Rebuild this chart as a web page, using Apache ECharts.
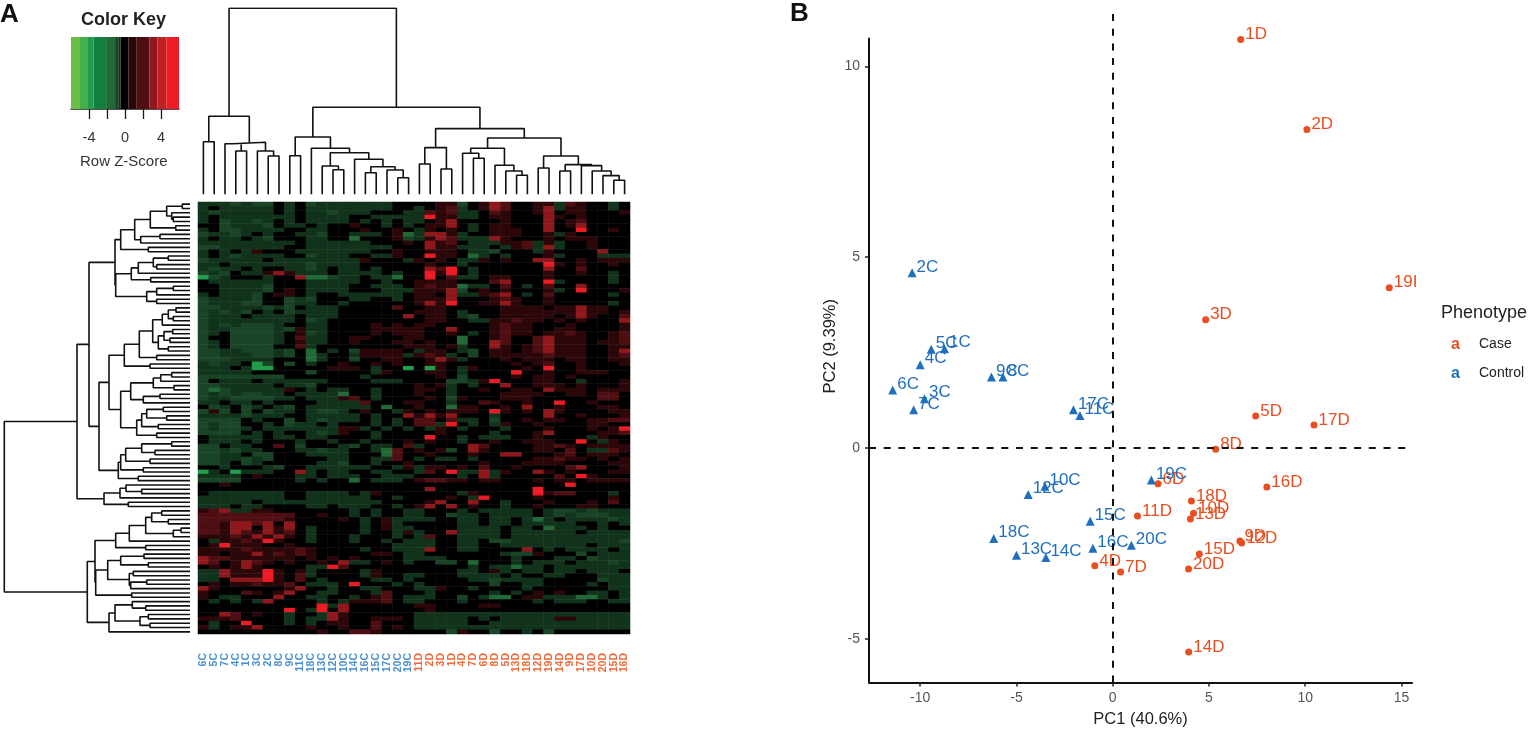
<!DOCTYPE html>
<html>
<head>
<meta charset="utf-8">
<style>html,body{margin:0;padding:0;background:#fff}#chart{width:1536px;height:734px}</style>
<script src="https://cdn.jsdelivr.net/npm/echarts@6/dist/echarts.min.js"></script>
</head>
<body>
<div id="chart"></div>
<script>
const colLabels = ['6C','5C','7C','4C','1C','3C','2C','8C','9C','11C','18C','13C','12C','10C','14C','16C','15C','17C','20C','19C',
    '11D','2D','3D','1D','4D','7D','6D','8D','5D','13D','18D','12D','19D','14D','9D','17D','10D','20D','15D','16D'];

// colour key bands: [from, to, colour]
const keyFrom = [-6, -5, -4.2, -3.5, -2.1, -1.1, -0.75, -0.5, 0.4, 1.3, 2.7, 3.6, 4.6];
const keyTo = [-5, -4.2, -3.5, -2.1, -1.1, -0.75, -0.5, 0.4, 1.3, 2.7, 3.6, 4.6, 6];
const keyColors = ['#6cbd45', '#43ae4a', '#229c4d', '#12803f', '#216a38', '#194526', '#12331b', '#000000', '#2c0709', '#4e0e12', '#8f181d', '#c02026', '#ed1c24'];

const heatLevels = {G: -3.8, g: -1.5, h: -0.9, d: -0.6, k: 0, r: 0.85, s: 2, R: 3.15, B: 5.3};
const heatRows = [
    'dddhdhhkdk hdddddddkk kkrrhkrRsk krrdsrkkdk',
    'dkdddddkdk ddddddddkk dkrsdkrRsk krRdrrkkdk',
    'dhdddddkdk ddhdddkkkd dsrsddksrk krRkrrkkkr',
    'dkdddddddk ddddkkdddd dBrrddkrrk kkRrkrkkkk',
    'dkhddhdkdk ddddkdkdkd dkrRkkkkrk kkRkrskkkk',
    'kkhdddhkdd kdkkrkkdkd krrRkdkrrk kkRkrRkkkk',
    'dkhhddddkk ddkkkrkkrk drkrkdkrrr kkRkkBkkrk',
    'hddhdkdkkd dhkkdddkrg dRRrdkkrrr kkrdrkkkkk',
    'dkddkdhkkk ddkkgkkkrh drRsdddRrk kkrkrrrkkk',
    'dddddddddk ddddddkkkr kRrskdddrr sdrdkkrkkk',
    'hhddddddkk ddddddddkk kRrrdddkdr sdRdkkrkkk',
    'dkdkdrkkkd ddddddkkrk krrrkddhkk kdrkkkkRkk',
    'dkdhddddkk hdddkkddrk kBrrkgdkdk kkrdkkkddd',
    'hdddddkddd dddddrkkkd rkrkddrkrk kRRkkrkrrr',
    'ddkddddddd hddddkkkkk krkkdkkkkk kkBrkrkkrk',
    'dhddkdkkdd hdkddkdkkk kRsBkdkkkk kkRkkskkkk',
    'hdhkddrRrd ddkddddkdk kBrBkdkkkk kkrkkrkkdk',
    'GhdkkkdkkR gghddkddgk kBksddkrrk kkrkkkkkdk',
    'kddddddkkk dddddkkdkk rrrrkkksRk kkBdkkkkdk',
    'kkddddhkkk ddddkkdddk rsrrgddksk dkskkRkkkk',
    'kkddddhkrk ddddkkkddd rrrRhkrkrk kkrdkBkkkr',
    'dkdddhkrrk dkkddddddk rrkRddrsRk dkskkkkkdk',
    'hddddhkkhd hkkkddkkdk rrrRkkkrsr kkrkkkkkkk',
    'hdddhhkkhd dkkdkkkkkk rRrBkkrrRr kkrkkkkkdk',
    'hhddddhdhk dddkkkkksk krrkkkkkrr rrkrrRrrkk',
    'hdhdhkdkhd dddkkkkkkk rrrkdkkkrr rrrrrRrrkr',
    'hdddkddddk dddkkkkkkR krrkdhkkrr rrrkrRrkks',
    'hddddddddk hdkkkkkkkk krrkkddrrs rrkrkrkkkR',
    'hdhdhhhdkk ddkkkkrkrk rrkkkkkrsr rkkkrkkkkr',
    'hddhhhhdhr ddkkkkrrrr rkkRkkkrsr rkkrrkkkkr',
    'hdkhhhhdkr hdkkkkrkrr rkkrkdkrsr rkrrsrkkrs',
    'hkkhhhhdks ddkkrrkkkr rkkkgkkrsk ksRrrrkkrs',
    'hdkhhhhdkr ddkkrkkkrr krkkgkkRsk ksRrrrkrrs',
    'hdkhhhhkks dkkkkkkkkr rrkrdkkRrk rsRrrrkkrr',
    'hhddhhhdhk gkdkhrrrrk drrkdhkrrk rsRrrrkkrR',
    'hhdddhhdhk gdkkdrrrrd rsrdkhkrrr rrsrrrkkrs',
    'hhhddddkkk gdkkhkkrrk krRrdkkkrk rrrkrrkkrr',
    'dhddkGhkhk dkkrkkrkrk krrkkkkkkr krskkrkkkr',
    'dddkdGGkkk kkrrrkdkkG kGrkdrkkkk rkBkkrkkkk',
    'dddddkkkkk hkkkkkdrkk krrkdkkkkB kkrkkrrrkk',
    'hhhhhhhhkk kkkkkdkkkk kkrkhkkkkr krrkrkkkkk',
    'hkdddkdddd ddkkkkdddk kkkhhdrBkk krrkkdkkkr',
    'hhdddddkdd hkkkkkkkkk rkrdkdkkRk krrrkrkkkr',
    'hghdddddrk dkddkkdkkk rrkdkkrkkr rkRrrrkrrr',
    'hdhdhhddkd dddgkkdkkk rkkdkkkkrr rrkkrrkssk',
    'hddhhhhddk dddrskdkkk krkhrkkkrr rkkkkkkssk',
    'ddkddkdkkk kddddskkkr rkkdkksrkk rkkBkkrkkk',
    'khdkhdkdhk ddddddkgkk rkkgrrkkrk Rkkrkkkrrk',
    'hrhkhkhddk dhhdkrkkdr krkrrrkBrk rkRrkkkkrr',
    'ddddhdddkk dddddkdkkR rRrRkkkdkk kkRkkrkkkr',
    'hhhhkdkkhk dhdddkdkdk ssksddkhkk rkrrkkrrss',
    'hdhhkkdkhd dkdkkkdkdk ssdBkdkdrk krkkkkrrkk',
    'hdhhdkdddd dddrrdkdkd kdrkdkkkdk kkrkkkrkrB',
    'hhhhkdkdkk dhdrkkdkkk kkrkkkkdkk krRkkkkrrs',
    'kdddddkddk ddkkkkdkkk kBkkdkdddk krkkkkdrkk',
    'kdddkdkkkd kkdkkdkkkr krkkdkkrkk rrrkkBkdrk',
    'hhkddkkskh kkkdhkddks dkkkkRskkk krrsrkrrrr',
    'hhdhddkkkd dhddkkdgsk rkrhkRrkkk krrkskddsr',
    'hhddkhhkkk ddddkkkgsk krkkkrkkRR kkkrskrrrk',
    'hhddhdhkkk kkddkkddsk dkddkdkkkk krrsrrkrkr',
    'hhdkhdkkkk kddhkkdkkr kkkkkkrkkk rrrrkkkkrr',
    'kkdkkkdhkk ddddddkkdr drrkrkskkr kkkksRkkkr',
    'GdkGdddkkR dkddkkddkk dskBddRdrk kRrkrkkkrr',
    'ddddkrkkkd dkdddkkddd kkkkdkRdkk kkkskBrkkk',
    'hhhhkkkkkd kdkkgkdddk rssrrkrrkk krkrrkrrrr',
    'kkrkkkkkkk kkkkkkkkkk kkkkkkkkkk kkkkBkkkkk',
    'kkkkkkkkkk kkkkkkkkkk kRkkkkkkkk kBkkkkkkkk',
    'kdddddddkk ddddkdrkkk kkkkdrkkkk kBrsskkkdk',
    'ddddddddkk ddddddkkdk kkkrkdBkkk krkkkkkkrk',
    'dddddkdddd dddddddkkk krRkkRkkdk kkrkkkrksk',
    'dddkddkkkk ddkdddkkdk rRkRkrkkdk krkkkrrkkk',
    'rsRddrrkkk kkkkdkdkkd dkkkdkdddd dkdhhdhddd',
    'sssssssssk krkkdkdkkd dkkhddkddd dkdhdhhhdd',
    'ssssssssrk kkkrkdkrdd ddkkddkddk dgdkddddhd',
    'ssrRRsRkRk kkkkkdkrdk kkkkddkddk dddddkkdkd',
    'ssrRRkRrRk dkkkkdkrdd kkkkddddkd dkgdddkdkk',
    'ssrRsrRrsk dkkkkdkkdr dkkRddddkd dddddkdddd',
    'rrrsrRrRrk dkkkdkkkdk dskkddddkd dddddddddd',
    'kdrrsrBrkk dkkkdkkdkd ddkkddkhhd dddddddddh',
    'krBrrrkkrk kkkkkkkkdd ddkkddkkdd ddddddkddd',
    'rrrrsrrrrs rkkkkdkkdd dRkkddkkkk Rkdkddddkd',
    'rrkrrRrsrs rkkkkkrrkd dkkkkkkkdh hrkkkhkddd',
    'Rssrrrrrrk rkrkrkkkkd dddkkkkkkd kkkddkhddd',
    'RskrRsrkrk krkRddkrkd kkhhkgkkkd kdddkdddhd',
    'krkrRrkkkk ddBskkkkkk kkkkkdkddg ddkddddddd',
    'ddRrrrBrkr dkkkkdrkkk kkkkddkrdk ddkddkdddk',
    'ddRrrrBrks dkkkkdrkkd dkkkddddkd kkddkkkddd',
    'ddkRRRBrks kdkkkkddkd kkkkkddhdd ddkkkkkhdd',
    'krkrrsrrsk dddkBkkkdk dkkkkkkhkk ddkkkkdkdd',
    'RrkkkkkkrR kkdkkddkkk ddrkkdkkkk dkkkkkkkdd',
    'rkkksrkrRk kddkkkdskk kdkkkkkdkd krkrkkddkd',
    'rkddkkkRkk ddkkdkrskd ddkkhkdggk rrdddggdkd',
    'kdkdkdRkkk kdkdrrrskd dkkkdkkkkk kdkdddkkdd',
    'kkkkkkkkkk kBdRkkkkkk rrkkkkrrkk kkkkkkkkkk',
    'kkkkkkkkBk dBkRkkkkkk krkkkkkkkk kkkkkkkkkk',
    'kkRskrkkdk kdRrkkkkkk dddddddddd dddddddddd',
    'rrrskkkkdk ddRrkkrrrk dddddkdkdd dddrrddddd',
    'kdkkBkkkdk dkrrkkskkk dddddkkddd dddddddddd',
    'rdkrrRkkkk rkkrkkskrk dddddddddd dddddddddd',
    'kkkkkkkkkk krkkssrkkk kkkhrkkhkk dkhkkkkkkk'
].map(r => r.replace(/ /g, ''));

// dendrograms: node = [height, child, child], 0 = next leaf in order
const colTree = [186,
    [78, [52.6, 0, 0], [52, [50.6, 0, [43.3, 0, 0]], [43.3, 0, [38.3, 0, 0]]]],
    [87,
        [57.3, [38.6, 0, 0],
            [46, 0, [41.6, [28.3, 0, [24.6, 0, 0]], [35, 0, [27.6, [21.6, 0, 0], [24.3, 0, [16.6, 0, 0]]]]]]],
        [65.7,
            [46.7, [30.3, 0, 0], [25.3, 0, 0]],
            [56.3,
                [46, [41, 0, [36, 0, 0]], [29, 0, [23.3, 0, [19, 0, 0]]]],
                [38.3, [26.3, 0, 0], [29.7, [23.3, 0, 0], [28.7, 0, [23.3, 0, [18.7, 0, [14, 0, 0]]]]]]]]]];

const rowTreeA = [75,
    [69.3,
        [55.3,
            [39.7, [23.3, [7.7, 0, 0], [18.3, 0, [16.7, 0, 0]]], [14.3, 0, 0]],
            [49.3, [30, 0, 0], 0]],
        [41.7, 0, 0]],
    [74.3,
        [58.7, [51.7, [36.7, [21.7, 0, 0], [33.3, 0, 0]], 0], [39.3, 0, 0]],
        [43.3, [33.3, [16.7, 0, 0], 0], [33.3, 0, 0]]]];
const rowTreeB = [81,
    [65.7,
        [50.7,
            [37.3,
                [27.7, [21.7, [14, 0, 0], [16.7, 0, 0]], 0],
                [31.7, [26, [17.3, 0, 0], [20, 0, 0]], [21.7, 0, 0]]],
            [33.3, 0, 0]],
        [40, 0, 0]],
    [69.3,
        [59.3, [36.7, [29.3, [18.3, 0, 0], 0], [16, 0, 0]], [46.7, [30, 0, 0], 0]],
        [53.3, [48.3, [43.3, [26.7, 0, 0], [23.3, 0, 0]], [31.7, 0, 0]], [33.3, 0, 0]]]];
const rowTreeC = [71.7,
    [69.3,
        [64.3, [48.3, [18.3, 0, 0], [35, 0, 0]], [40, 0, 0]],
        [46.7, 0, 0]],
    [51.7, 0, 0]];
const rowTreeD = [86, [70, [64, 0, [48.3, 0, 0]], 0], [61.7, 0, 0]];
const rowTreeE = [102.7,
    [95,
        [74.3,
            [60.7, [44.3, [38.3, [28.3, 0, 0], [21.7, 0, 0]], [16.7, [9, 0, 0], 0]], 0],
            [44.3, 0, 0]],
        [94.3,
            [82.3,
                [69.3, [46, 0, 0], [41.7, 0, 0]],
                [60.7, [56.7, 0, 0], [59.3, [43.3, 0, 0], 0]]],
            [58.3, 0, 0]]],
    [81,
        [75, [57.7, 0, [44.3, 0, 0]], [50, [41.7, 0, 0], [40, 0, 0]]],
        0]];
const rowTree = [185.7, [113, [101, rowTreeA, [91, rowTreeB, rowTreeC]], rowTreeD], rowTreeE];

// PCA scores
const caseLabels = ['1D','2D','19I','3D','5D','17D','8D','16D','6D','18D','10D','13D','11D','9D','12D','15D','20D','4D','7D','14D'];
const casePC1 = [6.65,10.09,14.37,4.83,7.43,10.46,5.35,8.01,2.36,4.09,4.2,4.04,1.29,6.61,6.7,4.5,3.94,-0.93,0.41,3.95];
const casePC2 = [10.71,8.35,4.2,3.36,0.84,0.6,-0.03,-1.02,-0.94,-1.39,-1.71,-1.86,-1.78,-2.44,-2.49,-2.78,-3.17,-3.09,-3.25,-5.35];
const controlLabels = ['2C','5C','1C','4C','6C','3C','7C','9C','8C','17C','11C','10C','12C','19C','15C','18C','13C','14C','16C','20C'];
const controlPC1 = [-10.42,-9.43,-8.74,-10,-11.43,-9.78,-10.34,-6.3,-5.7,-2.04,-1.7,-3.52,-4.39,2.01,-1.17,-6.18,-5,-3.47,-1.03,0.97];
const controlPC2 = [4.59,2.59,2.6,2.18,1.52,1.29,1,1.86,1.86,1,0.85,-1,-1.22,-0.84,-1.92,-2.37,-2.81,-2.87,-2.63,-2.55];

const orange = '#e84e1f';
const blue = '#1f6fbf';
const font = '"Liberation Sans", Arial, sans-serif';

// walk a tree and return line points, leaves sit at 0.5, 1.5, ...
function treeLines(tree, swap) {
    const pts = [];
    let leaf = 0;
    const add = (p, h) => pts.push(swap ? [h, p] : [p, h]);
    function walk(node) {
        if (node === 0) return [leaf++ + 0.5, 0];
        const a = walk(node[1]);
        const b = walk(node[2]);
        add(a[0], a[1]); add(a[0], node[0]); add(b[0], node[0]); add(b[0], b[1]);
        pts.push(['-', '-']);
        return [(a[0] + b[0]) / 2, node[0]];
    }
    walk(tree);
    return pts;
}

const heatData = [];
heatRows.forEach((row, r) => {
    row.split('').forEach((c, col) => heatData.push([col, r, heatLevels[c]]));
});

const hidden = {show: false};
const treeStyle = {color: '#111', width: 1.6};

const chart = echarts.init(document.getElementById('chart'));
const option = {
    animation: false,
    backgroundColor: '#fff',
    textStyle: {fontFamily: font},
    grid: [
        {left: 198, top: 202, width: 432, height: 432},
        {left: 198, top: 8, width: 432, height: 186.3},
        {left: 0, top: 202, width: 190, height: 432},
        {left: 71, top: 37, width: 108, height: 72},
        {left: 869, top: 10, width: 543, height: 672.5}
    ],
    xAxis: [
        {
            type: 'category', gridIndex: 0, data: colLabels,
            axisLine: hidden, axisTick: hidden, splitLine: hidden, splitArea: hidden,
            axisLabel: {
                interval: 0, rotate: 90, margin: 19, fontSize: 10.5, fontWeight: 'bold',
                color: (v, i) => i < 20 ? '#4a8fd0' : '#ee6a3a'
            }
        },
        {type: 'value', gridIndex: 1, min: 0, max: 40, show: false},
        {type: 'value', gridIndex: 2, min: 0, max: 190, inverse: true, show: false},
        {
            type: 'value', gridIndex: 3, min: -6, max: 6,
            splitLine: hidden,
            axisLine: {lineStyle: {color: '#1a1a1a', width: 1.5}},
            axisTick: {length: 10, customValues: [-4, -2, 0, 2, 4], lineStyle: {color: '#1a1a1a', width: 1.3}},
            axisLabel: {customValues: [-4, 0, 4], margin: 21, fontSize: 14.5, color: '#333'}
        },
        {
            type: 'value', gridIndex: 4, min: -12.66, max: 15.55,
            splitLine: hidden,
            axisLine: {onZero: false, lineStyle: {color: '#111', width: 2}},
            axisTick: {customValues: [-10, -5, 0, 5, 10, 15], length: 4, lineStyle: {color: '#222', width: 1.5}},
            axisLabel: {customValues: [-10, -5, 0, 5, 10, 15], fontSize: 14, color: '#555', margin: 9},
            name: 'PC1 (40.6%)', nameLocation: 'middle', nameGap: 28,
            nameTextStyle: {fontSize: 16.5, color: '#222'}
        }
    ],
    yAxis: [
        {type: 'category', gridIndex: 0, inverse: true, data: heatRows.map((r, i) => i), show: false},
        {type: 'value', gridIndex: 1, min: 0, max: 186.3, show: false},
        {type: 'value', gridIndex: 2, min: 0, max: 100, inverse: true, show: false},
        {type: 'value', gridIndex: 3, min: 0, max: 1, show: false},
        {
            type: 'value', gridIndex: 4, min: -6.147, max: 11.48,
            splitLine: hidden,
            axisLine: {show: false, onZero: false},
            axisTick: {show: true, customValues: [-5, 0, 5, 10], length: 4, lineStyle: {color: '#222', width: 1.5}},
            axisLabel: {show: true, customValues: [-5, 0, 5, 10], fontSize: 14, color: '#555', margin: 9},
            name: 'PC2 (9.39%)', nameLocation: 'middle', nameGap: 30, nameRotate: 90,
            nameTextStyle: {fontSize: 16.5, color: '#222'}
        }
    ],
    visualMap: {
        show: false, type: 'piecewise', seriesIndex: 0, dimension: 2,
        pieces: keyFrom.map((f, i) => ({gte: f, lt: keyTo[i], color: keyColors[i]}))
    },
    series: [
        {
            type: 'heatmap', xAxisIndex: 0, yAxisIndex: 0, data: heatData,
            progressive: 0, silent: true, itemStyle: {borderWidth: 0}
        },
        {
            type: 'line', xAxisIndex: 1, yAxisIndex: 1, data: treeLines(colTree, false),
            showSymbol: false, symbol: 'none', silent: true, lineStyle: treeStyle
        },
        {
            type: 'line', xAxisIndex: 2, yAxisIndex: 2, data: treeLines(rowTree, true),
            showSymbol: false, symbol: 'none', silent: true, lineStyle: treeStyle
        },
        {
            type: 'custom', xAxisIndex: 3, yAxisIndex: 3, silent: true,
            data: keyFrom.map((f, i) => [f, keyTo[i]]),
            encode: {x: [0, 1]},
            renderItem(params, api) {
                const a = api.coord([api.value(0), 1]);
                const b = api.coord([api.value(1), 0]);
                return {
                    type: 'rect',
                    shape: {x: a[0], y: a[1], width: b[0] - a[0], height: b[1] - a[1]},
                    style: {fill: keyColors[params.dataIndex]}
                };
            }
        },
        {
            name: 'Case', type: 'scatter', xAxisIndex: 4, yAxisIndex: 4,
            symbol: 'circle', symbolSize: 7,
            itemStyle: {color: orange, opacity: 1},
            data: caseLabels.map((n, i) => ({name: n, value: [casePC1[i], casePC2[i]]})),
            label: {
                show: true, position: 'right', distance: 1, offset: [0, -5],
                formatter: '{b}', color: orange, fontSize: 17
            },
            markLine: {
                silent: true, symbol: 'none', animation: false,
                label: hidden,
                lineStyle: {color: '#111', type: [7, 7.7], width: 2},
                data: [{xAxis: 0}, {yAxis: 0}]
            }
        },
        {
            name: 'Control', type: 'scatter', xAxisIndex: 4, yAxisIndex: 4,
            symbol: 'triangle', symbolSize: 9,
            itemStyle: {color: blue, opacity: 1},
            data: controlLabels.map((n, i) => ({name: n, value: [controlPC1[i], controlPC2[i]]})),
            label: {
                show: true, position: 'right', distance: 0, offset: [0, -6],
                formatter: '{b}', color: blue, fontSize: 17
            },
            // left axis line stops short of the plot top
            markLine: {
                silent: true, symbol: 'none', animation: false,
                label: hidden,
                lineStyle: {color: '#111', type: 'solid', width: 2},
                data: [[{coord: [-12.66, -6.147]}, {coord: [-12.66, 10.75]}]]
            }
        }
    ],
    graphic: [
        {type: 'text', left: 0, top: 2, style: {text: 'A', font: 'bold 26px ' + font, fill: '#111'}},
        {type: 'text', left: 790, top: 1, style: {text: 'B', font: 'bold 26px ' + font, fill: '#111'}},
        {type: 'text', left: 81, top: 11, style: {text: 'Color Key', font: 'bold 18px ' + font, fill: '#222'}},
        {type: 'text', left: 80, top: 154, style: {text: 'Row Z-Score', font: '15px ' + font, fill: '#333'}},
        {type: 'text', left: 1441, top: 304, style: {text: 'Phenotype', font: '18px ' + font, fill: '#222'}},
        {type: 'text', left: 1451, top: 337, style: {text: 'a', font: 'bold 16px ' + font, fill: orange}},
        {type: 'text', left: 1451, top: 366, style: {text: 'a', font: 'bold 16px ' + font, fill: blue}},
        {type: 'text', left: 1479, top: 337, style: {text: 'Case', font: '14px ' + font, fill: '#222'}},
        {type: 'text', left: 1479, top: 366, style: {text: 'Control', font: '14px ' + font, fill: '#222'}}
    ]
};
chart.setOption(option);
</script>
</body>
</html>
